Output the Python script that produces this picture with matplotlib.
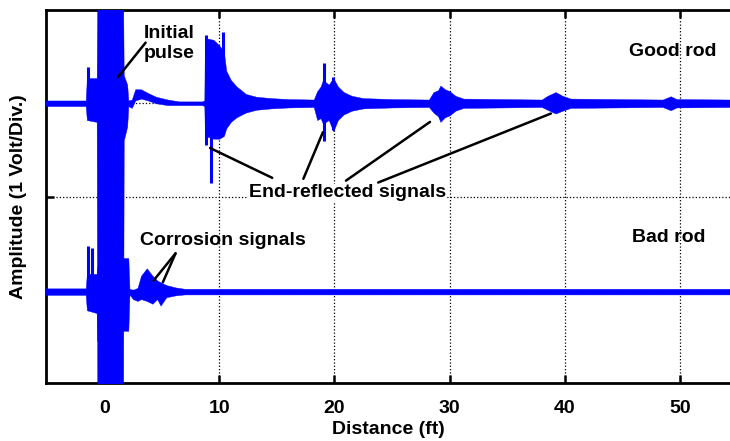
import numpy as np
from matplotlib import pyplot as plt

plt.rcParams['font.family'] = ['Liberation Sans', 'DejaVu Sans']
plt.rcParams['font.weight'] = 'bold'

# Good rod trace: envelope of the signal (distance in ft, upper / lower amplitude)
good_x = [-5.1, -1.6, -1.5, -0.65, -0.6, 1.65, 1.7, 2.0, 2.1, 2.4, 2.7, 3.2, 3.8, 4.5, 5.5, 6.5, 8.5,
          8.7, 8.75, 9.5, 10.0, 10.4, 10.6, 11.0, 11.5, 12.3, 13.2, 14.5, 16.0, 18.2,
          18.5, 18.8, 19.0, 19.5, 19.9, 20.3, 20.8, 21.5, 22.5, 25.0,
          28.2, 28.6, 29.0, 29.2, 29.6, 30.0, 30.5, 31.2, 38.0,
          38.5, 39.2, 39.8, 40.5, 48.5, 49.2, 49.7, 54.5]
good_hi = [1.03, 1.03, 1.27, 1.27, 2.1, 2.1, 1.3, 1.2, 1.03, 1.04, 1.15, 1.15, 1.11, 1.07, 1.04, 1.02, 1.02,
           1.03, 1.70, 1.68, 1.62, 1.55, 1.35, 1.25, 1.18, 1.10, 1.07, 1.055, 1.045, 1.04,
           1.13, 1.18, 1.25, 1.20, 1.27, 1.18, 1.12, 1.08, 1.055, 1.045,
           1.04, 1.12, 1.14, 1.19, 1.15, 1.13, 1.08, 1.05, 1.04,
           1.08, 1.12, 1.08, 1.05, 1.04, 1.075, 1.045, 1.04]
good_lo = [0.97, 0.97, 0.82, 0.80, -2.1, -2.1, 0.6, 0.75, 0.97, 0.95, 1.03, 1.05, 1.03, 1.0, 0.98, 0.98, 0.98,
           0.97, 0.65, 0.62, 0.62, 0.65, 0.73, 0.80, 0.85, 0.90, 0.93, 0.945, 0.955, 0.96,
           0.82, 0.84, 0.78, 0.82, 0.70, 0.82, 0.88, 0.92, 0.945, 0.955,
           0.96, 0.90, 0.86, 0.80, 0.85, 0.87, 0.92, 0.95, 0.96,
           0.93, 0.89, 0.92, 0.95, 0.96, 0.925, 0.955, 0.96]
good_spike_x = [-1.4, 8.85, 9.25, 10.35, 19.05, 19.9]
good_spike_top = [1.39, 1.73, 1.2, 1.76, 1.43, 1.28]
good_spike_bot = [0.9, 0.55, 0.14, 0.8, 0.60, 0.71]

# Bad rod trace
bad_x = [-5.1, -1.6, -1.5, -0.65, -0.6, 1.6, 2.1, 2.2, 2.5, 2.9, 3.2, 3.7, 4.2, 4.6, 4.9, 5.4, 6.2, 7.0, 54.5]
bad_hi = [-0.985, -0.985, -0.83, -0.83, -0.75, -0.66, -0.66, -0.99, -1.0, -0.98, -0.85, -0.77, -0.85, -0.90, -0.92,
          -0.95, -0.975, -0.99, -0.99]
bad_lo = [-1.055, -1.055, -1.22, -1.25, -1.55, -1.44, -1.44, -1.05, -1.10, -1.12, -1.10, -1.12, -1.15, -1.10, -1.17,
          -1.08, -1.06, -1.05, -1.05]
bad_spike_x = [-1.4, -1.05]
bad_spike_top = [-0.53, -0.55]
bad_spike_bot = [-1.0, -1.0]

fig = plt.figure(figsize=(7.3, 4.41), dpi=100)
ax = fig.add_axes([0.063, 0.1315, 0.937, 0.8458])

blue = '#0000FF'
ax.fill_between(good_x, good_lo, good_hi, color=blue, lw=0.3, zorder=3)
ax.vlines(good_spike_x, good_spike_bot, good_spike_top, color=blue, lw=2.2, zorder=3)
ax.fill_between(bad_x, bad_lo, bad_hi, color=blue, lw=0.3, zorder=3)
ax.vlines(bad_spike_x, bad_spike_bot, bad_spike_top, color=blue, lw=2.2, zorder=3)

ax.set_xlim(-5.05, 54.35)
ax.set_ylim(-2.0, 2.0)
ax.set_xticks([0, 10, 20, 30, 40, 50])
ax.set_yticks([-1, 0, 1])
ax.set_yticklabels([])
ax.tick_params(direction='in', length=6, width=1.8, top=True, right=False,
               labelsize=14, pad=12)
ax.grid(True, linestyle=':', color='black', linewidth=0.9)
ax.set_axisbelow(True)
for s in ['left', 'bottom', 'top']:
    ax.spines[s].set_linewidth(2)
ax.spines['right'].set_visible(False)

ax.set_xlabel("Distance (ft)", fontsize=14, fontweight='bold', labelpad=3)
ax.set_ylabel("Amplitude (1 Volt/Div.)", fontsize=14, fontweight='bold', labelpad=2)

# annotations
txt = dict(fontsize=14, fontweight='bold', zorder=5)
line = dict(arrowstyle='-', lw=1.8, color='black', shrinkA=0, shrinkB=0)

ax.text(3.4, 1.64, "Initial\npulse", ha='left', va='center', linespacing=1.2, **txt)
ax.annotate('', xy=(1.2, 1.28), xytext=(3.6, 1.65), arrowprops=line, zorder=5)

ax.text(21.1, 0.04, "End-reflected signals", ha='center', va='center',
        bbox=dict(facecolor='white', edgecolor='none', pad=0.5), **txt)
for end, start in [((9.2, 0.52), (14.6, 0.20)), ((19.0, 0.69), (17.3, 0.19)),
                   ((28.3, 0.80), (21.0, 0.17)), ((38.8, 0.89), (23.8, 0.15))]:
    ax.annotate('', xy=end, xytext=start, arrowprops=line, zorder=5)

ax.text(10.3, -0.47, "Corrosion signals", ha='center', va='center', **txt)
ax.annotate('', xy=(4.3, -0.90), xytext=(6.2, -0.61), arrowprops=line, zorder=5)
ax.annotate('', xy=(5.1, -0.92), xytext=(6.2, -0.61), arrowprops=line, zorder=5)

ax.text(49.4, 1.55, "Good rod", ha='center', va='center', **txt)
ax.text(49.0, -0.44, "Bad rod", ha='center', va='center', **txt)

fig.savefig("out.png", dpi=100)
